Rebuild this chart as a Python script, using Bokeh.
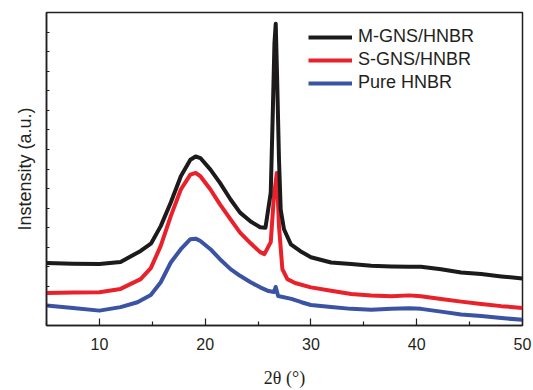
from bokeh.plotting import figure
from bokeh.models import FixedTicker, Legend, LegendItem, Range1d
from bokeh.embed import file_html
from bokeh.resources import INLINE

# 2-theta (degrees) and intensity (a.u.)
m_gns_x = [5.0, 7.5, 10.0, 12.0, 13.9, 14.9, 15.8, 16.75, 17.7, 18.6, 19.1, 19.55,
           20.5, 21.4, 22.4, 23.3, 24.3, 25.2, 25.7, 26.2, 26.4, 26.55, 26.67, 26.8,
           26.98, 27.14, 27.45, 28.1, 29.0, 30.0, 31.9, 33.8, 35.7, 37.6, 39.3, 40.4,
           42.3, 44.2, 46.1, 48.0, 50.0]
m_gns_y = [3.19, 3.16, 3.14, 3.25, 3.81, 4.20, 5.08, 6.29, 7.63, 8.47, 8.64, 8.56,
           7.97, 7.29, 6.44, 5.77, 5.32, 5.02, 5.00, 6.80, 11.02, 14.42, 15.42, 12.69,
           8.47, 5.93, 4.92, 4.15, 3.80, 3.49, 3.22, 3.14, 3.05, 3.02, 3.00, 3.00,
           2.88, 2.71, 2.63, 2.51, 2.40]

s_gns_x = [5.0, 7.5, 10.0, 12.0, 13.9, 14.86, 15.8, 16.75, 17.7, 18.6, 19.1, 19.55,
           20.5, 21.4, 22.4, 23.3, 24.3, 25.2, 25.6, 26.2, 26.5, 26.77, 26.98, 27.3,
           27.77, 28.5, 30.0, 31.9, 33.8, 35.7, 37.6, 39.3, 40.4, 42.3, 44.2, 46.1,
           48.0, 50.0]
s_gns_y = [1.66, 1.69, 1.70, 1.87, 2.37, 2.93, 4.07, 5.59, 6.95, 7.71, 7.80, 7.63,
           6.95, 6.19, 5.42, 4.75, 4.20, 3.75, 3.65, 4.26, 6.59, 7.80, 5.07, 2.88,
           2.37, 2.17, 1.95, 1.78, 1.61, 1.53, 1.49, 1.54, 1.49, 1.36, 1.22, 1.10,
           0.99, 0.90]

pure_x = [5.0, 7.5, 10.0, 12.0, 13.6, 14.86, 15.8, 16.75, 17.7, 18.6, 19.1, 19.55,
          20.5, 21.4, 22.4, 23.3, 24.3, 25.2, 26.0, 26.5, 26.67, 26.9, 28.15, 29.1,
          30.0, 31.9, 33.8, 35.7, 37.6, 39.3, 40.4, 42.3, 44.2, 46.1, 48.0, 50.0]
pure_y = [1.02, 0.90, 0.76, 0.94, 1.19, 1.56, 2.21, 3.22, 3.90, 4.41, 4.44, 4.32,
          3.90, 3.39, 2.88, 2.54, 2.21, 1.95, 1.76, 1.71, 1.97, 1.51, 1.36, 1.19,
          1.05, 0.94, 0.85, 0.81, 0.85, 0.88, 0.85, 0.71, 0.56, 0.48, 0.38, 0.29]

series_names = ["M-GNS/HNBR", "S-GNS/HNBR", "Pure HNBR"]
series_colors = ["#1c1a1a", "#e8212b", "#3a53a3"]
x_ticks = [10, 20, 30, 40, 50]
x_minor = [5, 15, 25, 35, 45]
y_ticks = list(range(1, 16))

p = figure(width=533, height=390, output_backend="svg", toolbar_location=None,
           x_range=Range1d(5, 50), y_range=Range1d(0, 16),
           min_border_left=46, min_border_right=11, min_border_top=12, min_border_bottom=63)

p.background_fill_color = "white"
p.border_fill_color = "white"
p.grid.visible = False
p.outline_line_color = "#231f20"
p.outline_line_width = 1.5

font = "Liberation Sans"

# x axis
xa = p.xaxis[0]
xa.ticker = FixedTicker(ticks=x_ticks, minor_ticks=x_minor)
xa.major_tick_in = 7
xa.major_tick_out = 0
xa.minor_tick_in = 4
xa.minor_tick_out = 0
xa.axis_line_width = 1.5
xa.major_tick_line_width = 1.2
xa.minor_tick_line_width = 1.2
xa.axis_line_color = "#231f20"
xa.major_tick_line_color = "#231f20"
xa.minor_tick_line_color = "#231f20"
xa.major_label_text_font = font
xa.major_label_text_font_size = "16px"
xa.major_label_text_color = "#231f20"
xa.major_label_standoff = 12
xa.axis_label = "2θ (°)"
xa.axis_label_text_font = "Liberation Serif"
xa.axis_label_text_font_style = "normal"
xa.axis_label_text_font_size = "18px"
xa.axis_label_text_color = "#231f20"
xa.axis_label_standoff = 15

# y axis
ya = p.yaxis[0]
ya.ticker = FixedTicker(ticks=y_ticks, minor_ticks=[])
ya.major_tick_in = 3
ya.major_tick_out = 0
ya.minor_tick_in = 0
ya.minor_tick_out = 0
ya.axis_line_width = 1.5
ya.axis_line_color = "#231f20"
ya.major_tick_line_color = "#231f20"
ya.major_tick_line_width = 1
ya.major_label_overrides = {t: "" for t in y_ticks}
ya.major_label_standoff = 0
ya.axis_label = "Instensity (a.u.)"
ya.axis_label_text_font = font
ya.axis_label_text_font_style = "normal"
ya.axis_label_text_font_size = "18px"
ya.axis_label_text_color = "#231f20"
ya.axis_label_standoff = 12

xs = [m_gns_x, s_gns_x, pure_x]
ys = [m_gns_y, s_gns_y, pure_y]
renderers = []
for xx, yy, c in zip(xs[::-1], ys[::-1], series_colors[::-1]):
    r = p.line(xx, yy, line_color=c, line_width=4, line_join="round")
    renderers.append(r)
renderers = renderers[::-1]

legend = Legend(items=[LegendItem(label=n, renderers=[r]) for n, r in zip(series_names, renderers)],
                location=(262, 232), orientation="vertical")
legend.background_fill_alpha = 0
legend.border_line_color = None
legend.padding = 0
legend.margin = 0
legend.spacing = 2
legend.glyph_width = 44
legend.glyph_height = 20
legend.label_height = 20
legend.label_standoff = 6
legend.label_text_font = font
legend.label_text_font_size = "18px"
legend.label_text_color = "#231f20"
p.add_layout(legend, "center")

open("out.html", "w").write(file_html(p, INLINE))
